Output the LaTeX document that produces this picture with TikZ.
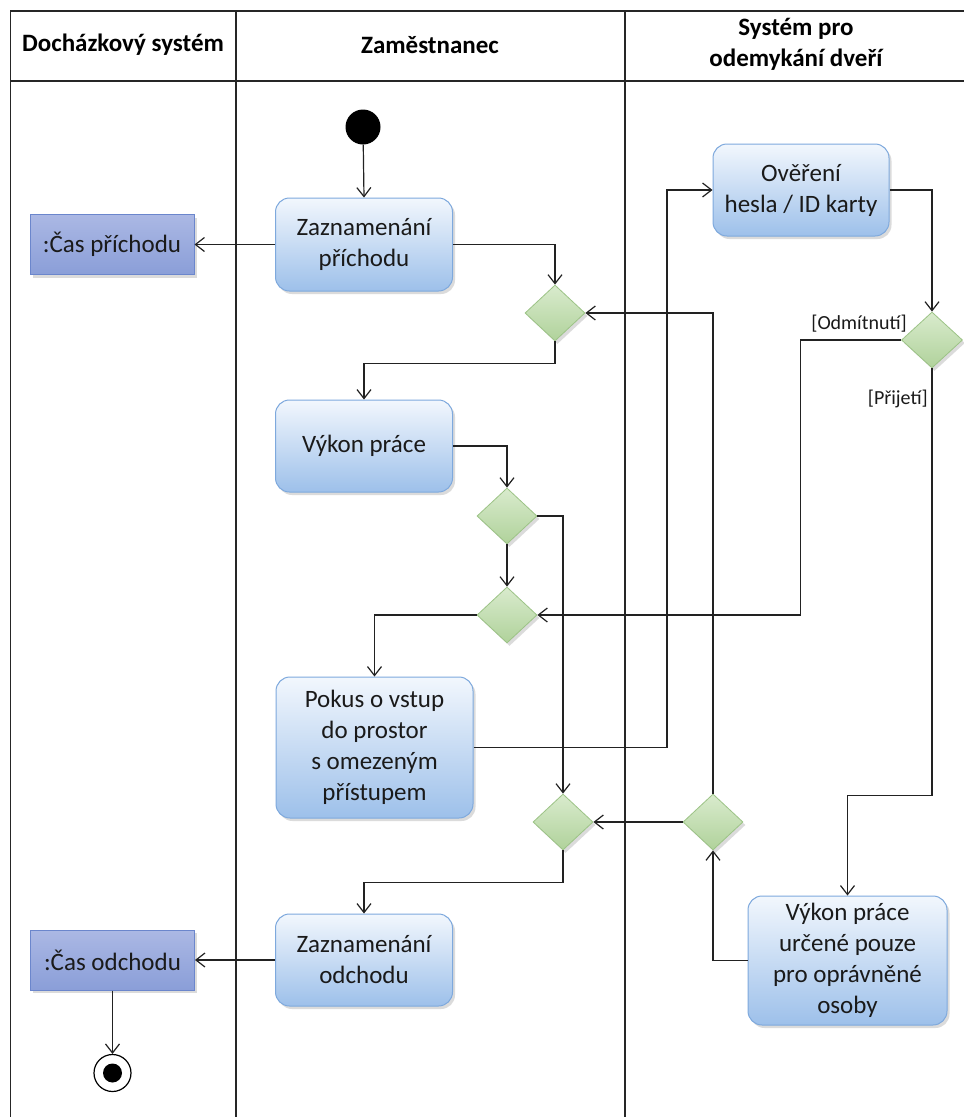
\documentclass[tikz,border=0pt]{standalone}
\usepackage{fontspec}
\setmainfont{Carlito}
\usetikzlibrary{arrows.meta,shapes.geometric,shadows}

\definecolor{actTop}{HTML}{F2F7FD}
\definecolor{actBot}{HTML}{9DC0EA}
\definecolor{actLine}{HTML}{7EA9DD}
\definecolor{objTop}{HTML}{ABB8E4}
\definecolor{objBot}{HTML}{8A9ED8}
\definecolor{objLine}{HTML}{6B86CC}
\definecolor{decTop}{HTML}{D9EBCD}
\definecolor{decBot}{HTML}{B0D29B}
\definecolor{decLine}{HTML}{9CC386}
\definecolor{ink}{HTML}{1A1A1A}
\definecolor{wire}{HTML}{222222}

\tikzset{
  softshadow/.style={drop shadow={opacity=0.28, shadow xshift=2.5pt, shadow yshift=-3pt}},
  action/.style={rectangle, rounded corners=14pt, draw=actLine, line width=1pt,
    top color=actTop, bottom color=actBot, softshadow, align=center, text=ink,
    font=\fontsize{25}{31}\selectfont, inner sep=2pt},
  objnode/.style={rectangle, draw=objLine, line width=1pt,
    top color=objTop, bottom color=objBot, softshadow, align=center, text=ink,
    font=\fontsize{25}{31}\selectfont, inner sep=2pt,
    minimum width=164pt, minimum height=60pt},
  decision/.style={diamond, draw=decLine, line width=0.8pt,
    top color=decTop, bottom color=decBot, softshadow, inner sep=0pt,
    minimum width=60pt, minimum height=56pt},
  hdr/.style={align=center, text=black, font=\fontsize{25}{31}\selectfont\bfseries},
  guard/.style={text=ink, font=\fontsize{20}{24}\selectfont, inner sep=0pt},
  flow/.style={draw=wire, line width=1.2pt,
    -{Straight Barb[length=9pt,width=14pt,line width=1.2pt]}},
  lane/.style={draw=black!85, line width=1.4pt}
}

\begin{document}
\begin{tikzpicture}[x=1pt,y=-1pt]
\useasboundingbox (0,0) rectangle (964,1117);
\fill[white] (0,0) rectangle (964,1117);

% swimlane frame
\draw[lane] (10.5,1117) -- (10.5,11) -- (964,11);
\draw[lane] (10.5,81) -- (964,81);
\draw[lane] (236,11) -- (236,1117);
\draw[lane] (625,11) -- (625,1117);

\node[hdr] (h1) at (123,45) {Docházkový systém};
\node[hdr] (h2) at (430,45) {Zaměstnanec};
\node[hdr] (h3) at (796,44) {Systém pro\\odemykání dveří};

% nodes
\node[circle, fill=black, minimum size=35pt, inner sep=0pt] (start) at (363,127) {};
\node[action, minimum width=177pt, minimum height=93pt] (zp) at (364,244.5) {Zaznamenání\\příchodu};
\node[objnode] (cp) at (112,244.5) {:Čas příchodu};
\node[decision] (d1) at (555,313) {};
\node[action, minimum width=176pt, minimum height=92pt] (over) at (801,190) {Ověření\\hesla / ID karty};
\node[decision, minimum width=61pt] (dec) at (932,340) {};
\node[action, minimum width=177pt, minimum height=92pt] (vp) at (364,446) {\raisebox{5pt}{Výkon práce}};
\node[decision] (d2) at (507,516) {};
\node[decision] (d3) at (507,615) {};
\node[action, minimum width=197pt, minimum height=141pt] (pokus) at (374.5,747.5) {Pokus o vstup\\do prostor\\s omezeným\\přístupem};
\node[decision] (d4) at (563,822) {};
\node[decision] (d5) at (713,822) {};
\node[action, minimum width=177pt, minimum height=92pt] (zo) at (364,960) {Zaznamenání\\odchodu};
\node[objnode] (co) at (112.5,960) {:Čas odchodu};
\node[action, minimum width=199pt, minimum height=129pt] (vu) at (847.5,960.5) {Výkon práce\\určené pouze\\pro oprávněné\\osoby};
\node[circle, draw=black, line width=1.2pt, minimum size=37pt, inner sep=0pt] (end) at (112.5,1073) {};
\fill[black] (end.center) circle (9.5pt);

% guards
\node[guard, anchor=east] (g1) at (907,324) {[Odmítnutí]};
\node[guard, anchor=east] (g2) at (928,399) {[Přijetí]};

% control flow
\draw[flow] (start) -- (zp.north);
\draw[flow] (zp.west) -- (cp.east);
\draw[flow] (zp.east) -| (d1.north);
\draw[flow] (d1.south) -- ++(0,22) -| (vp.north);
\draw[flow] (vp.east) -| (d2.north);
\draw[flow] (d2.south) -- (d3.north);
\draw[flow] (d2.east) -| (d4.north);
\draw[flow] (d3.west) -| (pokus.north);
\draw[flow] (pokus.east) -- ++(193.5,0) |- (over.west);
\draw[flow] (over.east) -| (dec.north);
\draw[flow] (dec.west) -- ++(-100.5,0) |- (d3.east);
\draw[flow] (dec.south) -- ++(0,427) -| (vu.north);
\draw[flow] (vu.west) -| (d5.south);
\draw[flow] (d5.west) -- (d4.east);
\draw[flow] (d5.north) |- (d1.east);
\draw[flow] (d4.south) -- ++(0,32) -| (zo.north);
\draw[flow] (zo.west) -- (co.east);
\draw[flow] (co.south) -- (end.north);
\end{tikzpicture}
\end{document}
